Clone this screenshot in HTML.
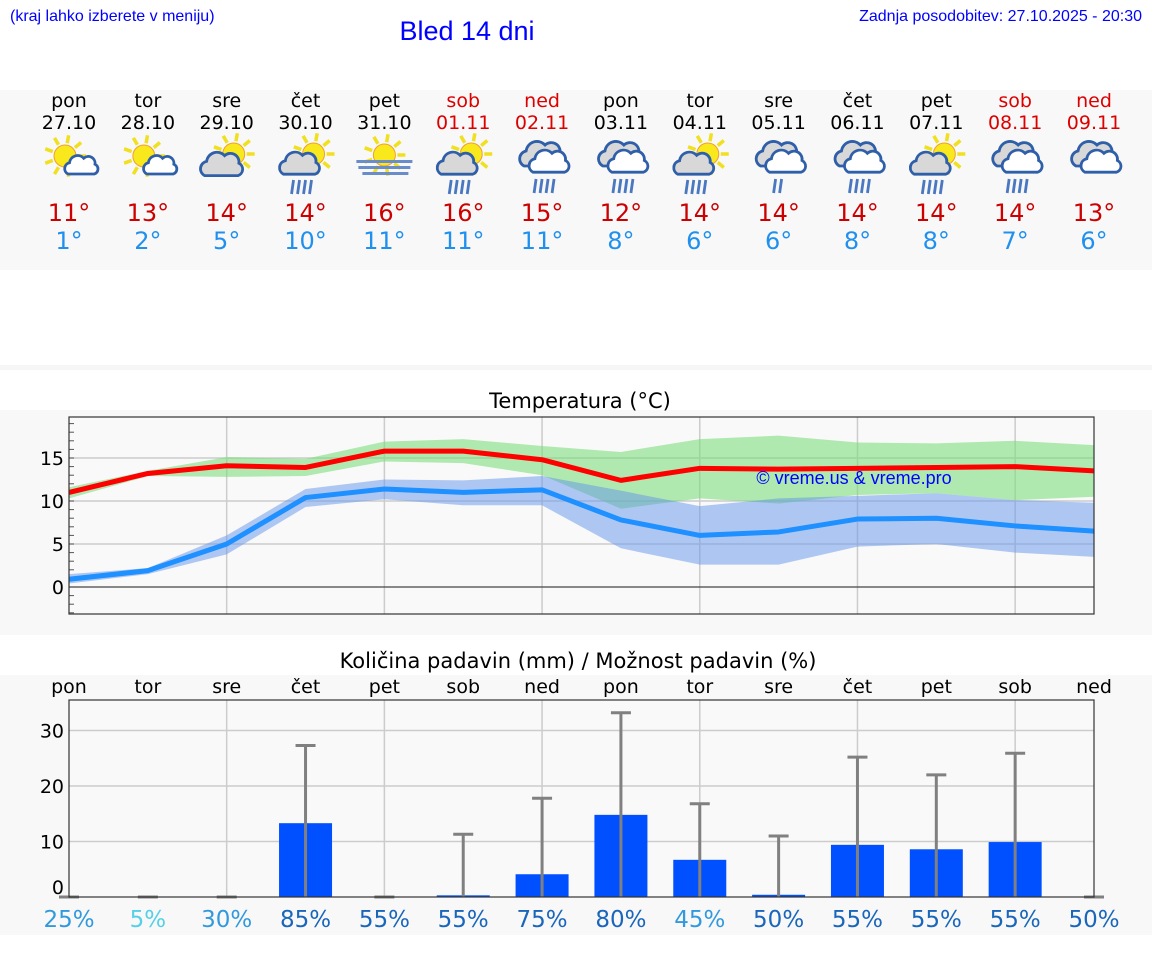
<!DOCTYPE html>
<html><head><meta charset="utf-8"><style>
body{margin:0;width:1152px;height:975px;background:#fff;overflow:hidden;font-family:"Liberation Sans","DejaVu Sans",sans-serif;}
svg text{font-family:"DejaVu Sans","Liberation Sans",sans-serif;}
</style></head><body>
<svg id="root" width="1152" height="975" viewBox="0 0 1152 975">
<text x="10" y="21" font-size="16" fill="#0000ff" style="font-family:'Liberation Sans',sans-serif">(kraj lahko izberete v meniju)</text>
<text x="467" y="40" font-size="27" fill="#0000ff" text-anchor="middle" style="font-family:'Liberation Sans',sans-serif">Bled 14 dni</text>
<text x="1142" y="21" font-size="16" fill="#0000ff" text-anchor="end" style="font-family:'Liberation Sans',sans-serif">Zadnja posodobitev: 27.10.2025 - 20:30</text>
<rect x="0" y="90" width="1152" height="180" fill="#f8f8f8"/>
<rect x="0" y="365" width="1152" height="5" fill="#f6f6f6"/>
<rect x="0" y="410" width="1152" height="225" fill="#f8f8f8"/>
<rect x="0" y="675" width="1152" height="260" fill="#f8f8f8"/>
<g id="daily"></g>
<text x="580" y="408" font-size="21" text-anchor="middle" fill="#000">Temperatura (°C)</text>
<g id="temp"></g>
<text x="578" y="668" font-size="21" text-anchor="middle" fill="#000">Količina padavin (mm) / Možnost padavin (%)</text>
<g id="precip"></g>
</svg>
<script>
const dayNames=["pon","tor","sre","čet","pet","sob","ned","pon","tor","sre","čet","pet","sob","ned"];
const dates=["27.10","28.10","29.10","30.10","31.10","01.11","02.11","03.11","04.11","05.11","06.11","07.11","08.11","09.11"];
const iconTypes=["sunc","sunc","cloudsun","cloudsunrain","fog","cloudsunrain","cloudsrain","cloudsrain","cloudsunrain","cloudsrain1","cloudsrain","cloudsunrain","cloudsrain","clouds"];
const maxTemps=[11,13,14,14,16,16,15,12,14,14,14,14,14,13];
const minTemps=[1,2,5,10,11,11,11,8,6,6,8,8,7,6];
const maxLine=[11.0,13.2,14.1,13.9,15.8,15.8,14.8,12.4,13.8,13.7,13.8,13.9,14.0,13.5];
const maxHigh=[11.6,13.5,15.1,14.9,16.9,17.2,16.4,15.7,17.2,17.6,16.8,16.7,17.0,16.5];
const maxLow=[10.3,12.9,12.8,12.9,14.6,14.4,13.0,9.1,10.3,9.7,10.7,10.9,10.1,10.5];
const minLine=[0.9,1.9,5.0,10.4,11.4,11.0,11.3,7.8,6.0,6.4,7.9,8.0,7.1,6.5];
const minHigh=[1.5,2.2,6.0,11.4,12.5,12.4,12.9,11.2,9.4,10.3,10.6,10.9,10.1,9.8];
const minLow=[0.4,1.5,3.8,9.3,10.2,9.5,9.5,4.5,2.6,2.6,4.7,5.0,4.0,3.5];
const tempTicks=[0,5,10,15];
const precipAmount=[0,0,0,13.3,0,0.3,4.1,14.8,6.7,0.4,9.4,8.6,9.9,0];
const precipMax=[0,0,0,27.3,0,11.3,17.8,33.2,16.8,11.0,25.2,22.0,25.9,0];
const precipChance=[25,5,30,85,55,55,75,80,45,50,55,55,55,50];
const precipTicks=[0,10,20,30];

const NS="http://www.w3.org/2000/svg";
function mk(tag,attrs,parent,text){const e=document.createElementNS(NS,tag);for(const k in attrs)e.setAttribute(k,attrs[k]);if(text!==undefined)e.textContent=text;parent.appendChild(e);return e;}
const X0=69,X1=1094;
const xs=i=>X0+i*(X1-X0)/13;

// daily
const daily=document.getElementById('daily');
const weekendIdx=[5,6,12,13];
function sun(g,cx,cy,r){
  for(let a=0;a<360;a+=40){const t=a*Math.PI/180;mk('line',{x1:cx+Math.cos(t)*(r+2),y1:cy+Math.sin(t)*(r+2),x2:cx+Math.cos(t)*(r+10),y2:cy+Math.sin(t)*(r+10),stroke:'#f0e020','stroke-width':3.5},g);}
  mk('circle',{cx,cy,r,fill:'#f8e81c',stroke:'#f0a030','stroke-width':1},g);
}
function cloud(g,cx,cy,s,fill){
  const p=`M${cx-20*s},${cy+8*s} a${8*s},${8*s} 0 0 1 ${2*s},${-15*s} a${11*s},${11*s} 0 0 1 ${19*s},${-6*s} a${9*s},${9*s} 0 0 1 ${15*s},${8*s} a${7*s},${7*s} 0 0 1 ${-1*s},${13*s} Z`;
  mk('path',{d:p,fill:fill,stroke:'#2f5fa8','stroke-width':2.8},g);
}
function rain(g,cx,cy,n){for(let k=0;k<n;k++){mk('line',{x1:cx-8+k*6,y1:cy,x2:cx-10+k*6,y2:cy+14,stroke:'#4a78c0','stroke-width':2.8},g);}}
for(let i=0;i<14;i++){
  const x=xs(i);const g=mk('g',{},daily);
  
  
  const col=weekendIdx.includes(i)?'#dd0000':'#000';
  mk('text',{x,y:107,'font-size':19,'text-anchor':'middle',fill:col},g,dayNames[i]);
  mk('text',{x,y:129,'font-size':19,'text-anchor':'middle',fill:col},g,dates[i]);
  const ic=mk('g',{},g);
  
  
  const t=iconTypes[i];
  if(t==='sunc'){sun(ic,x-4,156,11);cloud(ic,x+14,168,0.75,'#fff');}
  else if(t==='cloudsun'){sun(ic,x+7,154,11);cloud(ic,x-3,168,0.95,'#d8d8d8');}
  else if(t==='cloudsunrain'){sun(ic,x+8,154,11);cloud(ic,x-4,167,0.9,'#d8d8d8');rain(ic,x-4,180,4);}
  else if(t==='fog'){sun(ic,x,155,11);mk('rect',{x:x-28,y:160,width:56,height:3,fill:'#6a8cc8'},ic);mk('rect',{x:x-26,y:166,width:52,height:3,fill:'#6a8cc8'},ic);mk('rect',{x:x-22,y:172,width:46,height:3,fill:'#6a8cc8'},ic);}
  else{cloud(ic,x+2,158,1.0,'#d8d8d8');cloud(ic,x+9,165,0.9,'#fff');
    if(t==='cloudsrain')rain(ic,x+2,179,4);else if(t==='cloudsrain1')rain(ic,x+5,179,2);}
  mk('text',{x,y:221,'font-size':24,'text-anchor':'middle',fill:'#cc0000'},g,maxTemps[i]+'°');
  mk('text',{x,y:249,'font-size':24,'text-anchor':'middle',fill:'#2090ee'},g,minTemps[i]+'°');
}

// temperature chart
const T=document.getElementById('temp');
const TY0=417,TY1=614;
const ty=v=>587-8.6*v;
mk('rect',{x:X0,y:TY0,width:X1-X0,height:TY1-TY0,fill:'#f9f9f9'},T);
for(let i=2;i<14;i+=2){mk('line',{x1:xs(i),y1:TY0,x2:xs(i),y2:TY1,stroke:'#ccc','stroke-width':1.5},T);}
tempTicks.forEach(v=>{
  if(v!==0)mk('line',{x1:X0,y1:ty(v),x2:X1,y2:ty(v),stroke:'#ccc','stroke-width':1.5},T);
  const lb=mk('text',{x:64,y:ty(v)+7,'font-size':19,'text-anchor':'end',fill:'#000'},T,String(v));
  
  
});
for(let v=-3;v<=19;v++)mk('line',{x1:X0,y1:ty(v),x2:X0+5,y2:ty(v),stroke:'#555','stroke-width':1},T);
mk('line',{x1:X0,y1:ty(0),x2:X1,y2:ty(0),stroke:'#444','stroke-width':1.3},T);
function band(hi,lo,fill,name){
  let d='M'+hi.map((v,i)=>xs(i)+','+ty(v)).join(' L')+' L'+lo.map((v,i)=>xs(i)+','+ty(v)).reverse().join(' L')+'Z';
  const p=mk('path',{d,fill,stroke:'none'},T);
  
  
}
band(maxHigh,maxLow,'rgba(120,220,120,0.58)','max-temp-range');
band(minHigh,minLow,'rgba(100,150,235,0.5)','min-temp-range');
function line(vals,col,name){
  const p=mk('polyline',{points:vals.map((v,i)=>xs(i)+','+ty(v)).join(' '),fill:'none',stroke:col,'stroke-width':5,'stroke-linejoin':'round'},T);
  
  
}
line(maxLine,'#ff0000','max-temp-line');
line(minLine,'#1e90ff','min-temp-line');
mk('rect',{x:X0,y:TY0,width:X1-X0,height:TY1-TY0,fill:'none',stroke:'#333','stroke-width':1.2},T);
const wm=mk('text',{x:854,y:484,'font-size':18,'text-anchor':'middle',fill:'#0000ff',style:"font-family:'Liberation Sans',sans-serif"},T,'© vreme.us & vreme.pro');



// precipitation chart
const P=document.getElementById('precip');
const PY0=700,PY1=897;
const py=v=>897-5.55*v;
mk('rect',{x:X0,y:PY0,width:X1-X0,height:PY1-PY0,fill:'#f9f9f9'},P);
for(let i=2;i<14;i+=2)mk('line',{x1:xs(i),y1:PY0,x2:xs(i),y2:PY1,stroke:'#ccc','stroke-width':1.5},P);
precipTicks.forEach(v=>{
  if(v!==0)mk('line',{x1:X0,y1:py(v),x2:X1,y2:py(v),stroke:'#ccc','stroke-width':1.5},P);
  const lb=mk('text',{x:64,y:(v===0?py(v)-3:py(v)+7),'font-size':19,'text-anchor':'end',fill:'#000'},P,String(v));
  
  
});
const chanceCol=c=>c<=5?'#55d0e8':(c<50?'#3399dd':'#1a66bb');
for(let i=0;i<14;i++){
  const x=xs(i);
  const dl=mk('text',{x,y:693,'font-size':19,'text-anchor':'middle',fill:'#000'},P,dayNames[i]);
  
  
  const h=precipAmount[i]*5.55;
  const b=mk('rect',{x:x-26.5,y:py(precipAmount[i]),width:53,height:h,fill:'#0050ff'},P);
  
  
  const e=mk('g',{},P);
  
  
  mk('line',{x1:x,y1:py(0),x2:x,y2:py(precipMax[i]),stroke:'#808080','stroke-width':3},e);
  mk('line',{x1:x-10,y1:py(precipMax[i]),x2:x+10,y2:py(precipMax[i]),stroke:'#808080','stroke-width':3},e);
  const c=mk('text',{x,y:927,'font-size':23,'text-anchor':'middle',fill:chanceCol(precipChance[i])},P,precipChance[i]+'%');
  
  
}
mk('rect',{x:X0,y:PY0,width:X1-X0,height:PY1-PY0,fill:'none',stroke:'#333','stroke-width':1.2},P);
</script>
</body></html>
